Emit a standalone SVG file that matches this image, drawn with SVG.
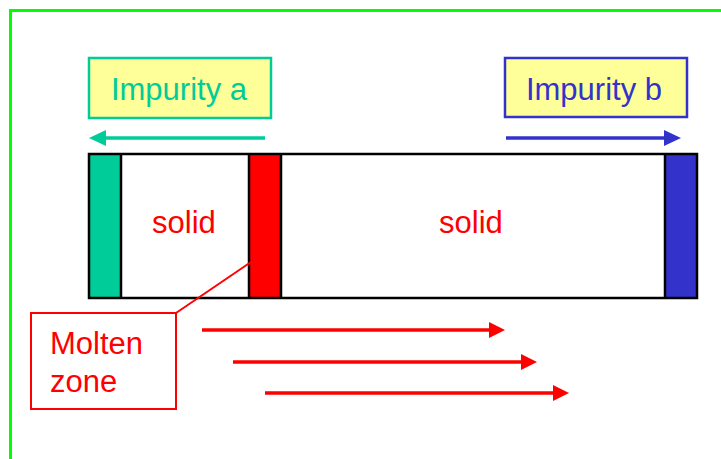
<svg xmlns="http://www.w3.org/2000/svg" width="721" height="459" viewBox="0 0 721 459">
  <style>
    .lbl { font-family: "Liberation Sans", Arial, sans-serif; font-size: 31px; }
    .bar { fill: none; stroke: #000; stroke-width: 2.5; }
    .arrow { stroke-width: 3.5; fill: none; }
  </style>
  <defs>
    <marker id="headTeal" viewBox="0 0 17 16" refX="7" refY="8" markerWidth="17" markerHeight="16" markerUnits="userSpaceOnUse" orient="auto">
      <path d="M0,0 L17,8 L0,16 Z" fill="#00CC99"/>
    </marker>
    <marker id="headBlue" viewBox="0 0 17 16" refX="7" refY="8" markerWidth="17" markerHeight="16" markerUnits="userSpaceOnUse" orient="auto">
      <path d="M0,0 L17,8 L0,16 Z" fill="#3333CC"/>
    </marker>
    <marker id="headRed" viewBox="0 0 16 16" refX="6" refY="8" markerWidth="16" markerHeight="16" markerUnits="userSpaceOnUse" orient="auto">
      <path d="M0,0 L16,8 L0,16 Z" fill="#FF0000"/>
    </marker>
  </defs>

  <!-- outer frame -->
  <rect x="10.5" y="10.5" width="730" height="470" fill="#fff" stroke="#00FF00" stroke-width="3"/>

  <!-- impurity labels -->
  <g id="impurity-a">
    <rect x="89" y="58" width="182" height="60" fill="#FFFF99" stroke="#00CC99" stroke-width="2.5"/>
    <text class="lbl" x="179" y="100" text-anchor="middle" fill="#00CC99">Impurity a</text>
  </g>
  <g id="impurity-b">
    <rect x="505" y="58" width="182" height="59" fill="#FFFF99" stroke="#3333CC" stroke-width="2.5"/>
    <text class="lbl" x="594" y="100" text-anchor="middle" fill="#3333CC">Impurity b</text>
  </g>

  <!-- rod with end segments and molten zone -->
  <g id="rod">
    <rect x="89" y="154" width="608" height="144" fill="#fff"/>
    <rect x="89" y="154" width="32" height="144" fill="#00CC99"/>
    <rect x="249" y="154" width="32" height="144" fill="#FF0000"/>
    <rect x="665" y="154" width="32" height="144" fill="#3333CC"/>
    <rect class="bar" x="89" y="154" width="608" height="144"/>
    <line class="bar" x1="121" y1="154" x2="121" y2="298"/>
    <line class="bar" x1="249" y1="154" x2="249" y2="298"/>
    <line class="bar" x1="281" y1="154" x2="281" y2="298"/>
    <line class="bar" x1="665" y1="154" x2="665" y2="298"/>
    <text class="lbl" x="184" y="233" text-anchor="middle" fill="#FF0000">solid</text>
    <text class="lbl" x="471" y="233" text-anchor="middle" fill="#FF0000">solid</text>
  </g>

  <g id="molten-zone">
    <rect x="31" y="313" width="145" height="96" fill="#fff" stroke="#FF0000" stroke-width="2"/>
    <text class="lbl" x="50" y="354" fill="#FF0000">Molten</text>
    <text class="lbl" x="50" y="392" fill="#FF0000">zone</text>
  </g>

  <!-- connectors -->
  <g id="connectors">
    <line x1="176" y1="313" x2="251" y2="262" stroke="#FF0000" stroke-width="2"/>
    <line class="arrow" x1="265" y1="138" x2="99" y2="138" stroke="#00CC99" marker-end="url(#headTeal)"/>
    <line class="arrow" x1="506" y1="138" x2="671" y2="138" stroke="#3333CC" marker-end="url(#headBlue)"/>
    <line class="arrow" x1="202" y1="330" x2="495" y2="330" stroke="#FF0000" marker-end="url(#headRed)"/>
    <line class="arrow" x1="233" y1="362" x2="527" y2="362" stroke="#FF0000" marker-end="url(#headRed)"/>
    <line class="arrow" x1="265" y1="393" x2="559" y2="393" stroke="#FF0000" marker-end="url(#headRed)"/>
  </g>
</svg>
